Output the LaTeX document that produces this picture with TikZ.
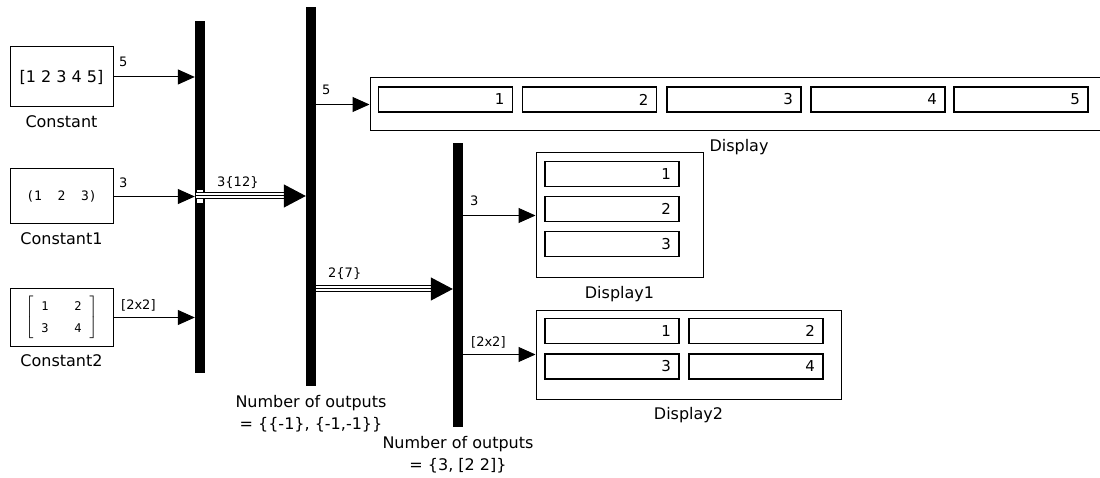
\documentclass[tikz,border=0pt]{standalone}
\usepackage{amsmath}
\usepackage{fontspec}
\setmainfont{DejaVu Sans}
\setmonofont{DejaVu Sans Mono}
\usetikzlibrary{arrows.meta,positioning}

\begin{document}
\begin{tikzpicture}[
  x=1pt, y=1pt,
  font=\fontsize{16}{22}\selectfont,
  blk/.style={draw,line width=1pt,minimum width=103pt,inner sep=0pt},
  bar/.style={fill=black,minimum width=10pt,inner sep=0pt},
  portbox/.style={draw,fill=white,line width=0.8pt,minimum width=7pt,minimum height=14pt,inner sep=0pt},
  outer/.style={draw,line width=1pt,inner sep=0pt},
  cell/.style={draw,line width=1.2pt,minimum width=134pt,minimum height=25pt,text width=118pt,align=right,inner sep=0pt,font=\fontsize{15}{18}\selectfont},
  lbl/.style={align=center,inner sep=0pt},
  sig/.style={anchor=base west,inner sep=0pt,font=\fontsize{13}{16}\selectfont},
  arrow/.style={-{Triangle[length=17pt,width=15pt]},line width=1pt},
  busarrow/.style={-{Triangle[length=22pt,width=23pt]},line width=1pt},
  bus/.style={double,double distance=5pt,line width=1pt,shorten >=20pt}
]
\useasboundingbox (0,0) rectangle (1100,-478);

% sources
\node[blk,minimum height=60pt] (const) at (61.5,-77) {[1 2 3 4 5]};
\node[blk,minimum height=55pt,font=\ttfamily\fontsize{13}{16}\selectfont] (const1) at (61.5,-196.5) {(1\ \ 2\ \ 3)};
\node[blk,minimum height=57pt,font=\ttfamily\fontsize{12}{22}\selectfont] (const2) at (61.5,-317.5)
  {$\left[\begin{array}{@{\hspace{8pt}}c@{\hspace{26pt}}c@{\hspace{8pt}}}\mbox{1}&\mbox{2}\\\mbox{3}&\mbox{4}\end{array}\right]$};
\node[lbl,below=8pt of const] (constname) {Constant};
\node[lbl,below=8pt of const1] (const1name) {Constant1};
\node[lbl,below=8pt of const2] (const2name) {Constant2};

% mux / demux bars
\node[bar,minimum height=352pt] (mux) at (200,-197) {};
\node[portbox] (port) at (200,-196) {};
\node[bar,minimum height=379pt] (demux) at (311,-196.5) {};
\node[bar,minimum height=284pt] (demux2) at (458,-285) {};
\node[lbl,below=9pt of demux] (demuxname) {Number of outputs\\= \{\{-1\}, \{-1,-1\}\}};
\node[lbl,below=9pt of demux2] (demux2name) {Number of outputs\\= \{3, [2 2]\}};

% displays
\node[outer,minimum width=738pt,minimum height=53pt] (disp) at (739,-104.5) {};
\foreach \i/\x in {1/445.5,2/589.5,3/734,4/878,5/1021}
  \node[cell] (d\i) at (\x,-99.5) {\i};
\node[lbl,below=8pt of disp] (dispname) {Display};

\node[outer,minimum width=167pt,minimum height=125pt] (disp1) at (619.5,-215.5) {};
\foreach \i/\y in {1/174,2/209,3/244}
  \node[cell] (da\i) at (612,-\y) {\i};
\node[lbl,below=8pt of disp1] (disp1name) {Display1};

\node[outer,minimum width=305pt,minimum height=89pt] (disp2) at (688.5,-354.5) {};
\node[cell] (db1) at (612,-331) {1};
\node[cell] (db2) at (756,-331) {2};
\node[cell] (db3) at (612,-366.5) {3};
\node[cell] (db4) at (756,-366.5) {4};
\node[lbl,below=8pt of disp2] (disp2name) {Display2};

% signals
\draw[arrow] (const.east) -- (const.east -| mux.west);
\draw[arrow] (const1.east) -- (const1.east -| mux.west);
\draw[arrow] (const2.east) -- (const2.east -| mux.west);
\draw[bus] (port.west) -- (port.west -| demux.west);
\draw[busarrow] (port.west) -- (port.west -| demux.west);
\draw[arrow] (disp.west -| demux.east) -- (disp.west);
\coordinate (tap) at (0,-289);
\draw[bus] (tap -| demux.east) -- (tap -| demux2.west);
\draw[busarrow] (tap -| demux.east) -- (tap -| demux2.west);
\draw[arrow] (disp1.west -| demux2.east) -- (disp1.west);
\draw[arrow] (disp2.west -| demux2.east) -- (disp2.west);

% signal dimensions
\node[sig] (w1) at (119,-67) {5};
\node[sig] (w2) at (119,-188) {3};
\node[sig] (w3) at (121,-309) {[2x2]};
\node[sig] (w4) at (217,-187) {3\{12\}};
\node[sig] (w5) at (322,-95) {5};
\node[sig] (w6) at (328,-278) {2\{7\}};
\node[sig] (w7) at (470,-206) {3};
\node[sig] (w8) at (471,-346) {[2x2]};
\end{tikzpicture}
\end{document}
